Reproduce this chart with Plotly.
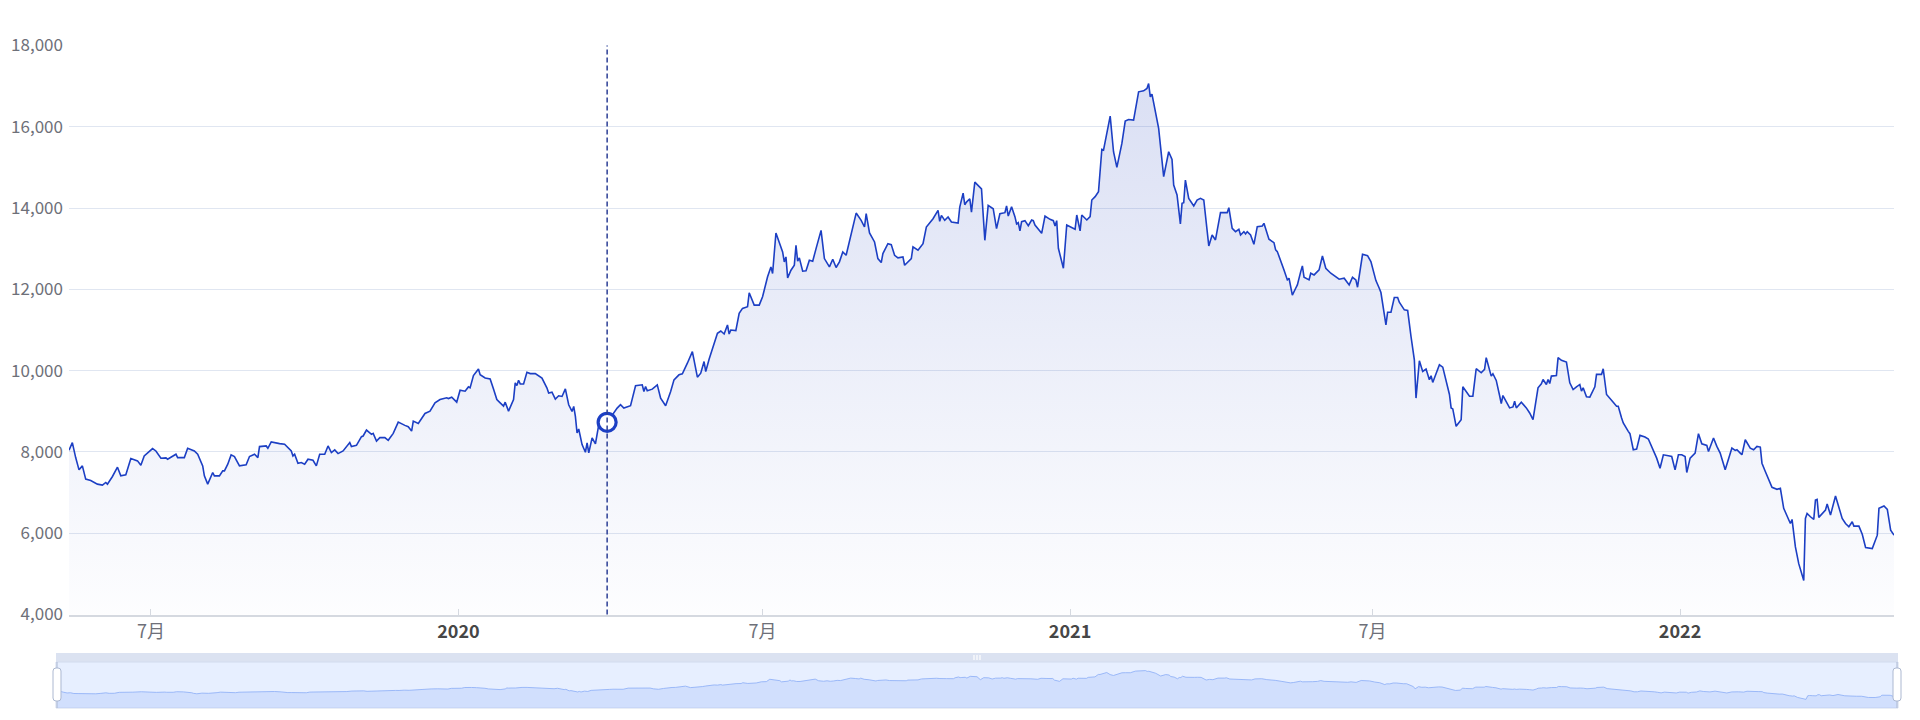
import plotly.graph_objects as go

# ---------------- data ----------------
dates = [
    "2019-05-13","2019-05-15","2019-05-17","2019-05-19","2019-05-21","2019-05-23","2019-05-26","2019-05-30",
    "2019-06-02","2019-06-04","2019-06-05","2019-06-08","2019-06-11","2019-06-13","2019-06-16","2019-06-19",
    "2019-06-23","2019-06-25","2019-06-27","2019-07-02","2019-07-04","2019-07-07","2019-07-10","2019-07-11",
    "2019-07-16","2019-07-17","2019-07-21","2019-07-23","2019-07-27","2019-07-29","2019-08-01","2019-08-02",
    "2019-08-04","2019-08-07","2019-08-08","2019-08-11","2019-08-13","2019-08-14","2019-08-16","2019-08-18",
    "2019-08-20","2019-08-23","2019-08-27","2019-08-29","2019-09-01","2019-09-03","2019-09-04","2019-09-08",
    "2019-09-09","2019-09-11","2019-09-16","2019-09-19","2019-09-23","2019-09-24","2019-09-25","2019-09-27",
    "2019-09-29","2019-10-01","2019-10-03","2019-10-06","2019-10-08","2019-10-10","2019-10-13","2019-10-15",
    "2019-10-17","2019-10-19","2019-10-21","2019-10-24","2019-10-28","2019-10-29","2019-11-01","2019-11-04",
    "2019-11-05","2019-11-07","2019-11-10","2019-11-11","2019-11-13","2019-11-15","2019-11-18","2019-11-20",
    "2019-11-23","2019-11-26","2019-11-30","2019-12-02","2019-12-04","2019-12-05","2019-12-08","2019-12-12",
    "2019-12-15","2019-12-18","2019-12-21","2019-12-25","2019-12-26","2019-12-28","2019-12-31","2020-01-02",
    "2020-01-05","2020-01-07","2020-01-08","2020-01-10","2020-01-13","2020-01-14","2020-01-17","2020-01-20",
    "2020-01-22","2020-01-24","2020-01-26","2020-01-28","2020-01-29","2020-01-31","2020-02-03","2020-02-04",
    "2020-02-05","2020-02-06","2020-02-07","2020-02-09","2020-02-11","2020-02-13","2020-02-16","2020-02-18",
    "2020-02-20","2020-02-23","2020-02-24","2020-02-26","2020-02-28","2020-03-01","2020-03-03","2020-03-05",
    "2020-03-07","2020-03-09","2020-03-10","2020-03-11","2020-03-12","2020-03-13","2020-03-15","2020-03-17",
    "2020-03-18","2020-03-19","2020-03-21","2020-03-23","2020-03-25","2020-03-30","2020-04-05","2020-04-07",
    "2020-04-09","2020-04-13","2020-04-16","2020-04-20","2020-04-21","2020-04-22","2020-04-23","2020-04-26",
    "2020-04-29","2020-05-01","2020-05-04","2020-05-07","2020-05-09","2020-05-12","2020-05-14","2020-05-17",
    "2020-05-20","2020-05-23","2020-05-25","2020-05-27","2020-05-28","2020-05-30","2020-06-01","2020-06-04",
    "2020-06-06","2020-06-08","2020-06-10","2020-06-11","2020-06-12","2020-06-15","2020-06-17","2020-06-19",
    "2020-06-22","2020-06-23","2020-06-26","2020-06-29","2020-07-01","2020-07-04","2020-07-06","2020-07-07",
    "2020-07-09","2020-07-11","2020-07-13","2020-07-14","2020-07-15","2020-07-16","2020-07-18","2020-07-20",
    "2020-07-21","2020-07-22","2020-07-23","2020-07-25","2020-07-27","2020-07-29","2020-07-31","2020-08-02",
    "2020-08-05","2020-08-07","2020-08-10","2020-08-12","2020-08-14","2020-08-16","2020-08-18","2020-08-20",
    "2020-08-23","2020-08-26","2020-08-29","2020-08-31","2020-09-01","2020-09-03","2020-09-06","2020-09-08",
    "2020-09-10","2020-09-11","2020-09-14","2020-09-16","2020-09-18","2020-09-20","2020-09-23","2020-09-24",
    "2020-09-28","2020-09-29","2020-10-02","2020-10-05","2020-10-07","2020-10-11","2020-10-14","2020-10-15",
    "2020-10-16","2020-10-18","2020-10-20","2020-10-22","2020-10-26","2020-10-27","2020-10-29","2020-10-30",
    "2020-10-31","2020-11-02","2020-11-03","2020-11-05","2020-11-09","2020-11-11","2020-11-13","2020-11-16",
    "2020-11-18","2020-11-20","2020-11-23","2020-11-24","2020-11-25","2020-11-27","2020-11-29","2020-11-30",
    "2020-12-01","2020-12-02","2020-12-03","2020-12-05","2020-12-07","2020-12-09","2020-12-10","2020-12-11",
    "2020-12-15","2020-12-17","2020-12-20","2020-12-22","2020-12-23","2020-12-24","2020-12-25","2020-12-28",
    "2020-12-30","2021-01-04","2021-01-05","2021-01-07","2021-01-08","2021-01-11","2021-01-13","2021-01-14",
    "2021-01-16","2021-01-18","2021-01-20","2021-01-21","2021-01-25","2021-01-27","2021-01-29","2021-02-01",
    "2021-02-03","2021-02-05","2021-02-08","2021-02-11","2021-02-14","2021-02-16","2021-02-17","2021-02-18",
    "2021-02-19","2021-02-23","2021-02-26","2021-03-01","2021-03-03","2021-03-04","2021-03-06","2021-03-08",
    "2021-03-09","2021-03-10","2021-03-11","2021-03-13","2021-03-16","2021-03-18","2021-03-20","2021-03-22",
    "2021-03-25","2021-03-27","2021-03-29","2021-04-01","2021-04-05","2021-04-06","2021-04-08","2021-04-10",
    "2021-04-12","2021-04-13","2021-04-15","2021-04-16","2021-04-17","2021-04-19","2021-04-21","2021-04-23",
    "2021-04-26","2021-04-27","2021-04-30","2021-05-03","2021-05-04","2021-05-05","2021-05-09","2021-05-11",
    "2021-05-12","2021-05-14","2021-05-16","2021-05-17","2021-05-19","2021-05-20","2021-05-21","2021-05-24",
    "2021-05-25","2021-05-27","2021-05-30","2021-06-01","2021-06-03","2021-06-06","2021-06-11","2021-06-14",
    "2021-06-17","2021-06-19","2021-06-21","2021-06-22","2021-06-25","2021-06-28","2021-06-30","2021-07-03",
    "2021-07-05","2021-07-06","2021-07-09","2021-07-10","2021-07-12","2021-07-14","2021-07-16","2021-07-17",
    "2021-07-20","2021-07-22","2021-07-24","2021-07-26","2021-07-27","2021-07-29","2021-07-31","2021-08-02",
    "2021-08-04","2021-08-05","2021-08-06","2021-08-10","2021-08-12","2021-08-14","2021-08-16","2021-08-17",
    "2021-08-18","2021-08-20","2021-08-23","2021-08-24","2021-08-26","2021-08-28","2021-08-30","2021-09-01",
    "2021-09-04","2021-09-06","2021-09-07","2021-09-09","2021-09-10","2021-09-11","2021-09-13","2021-09-15",
    "2021-09-16","2021-09-17","2021-09-19","2021-09-21","2021-09-23","2021-09-24","2021-09-25","2021-09-27",
    "2021-09-28","2021-10-01","2021-10-03","2021-10-05","2021-10-07","2021-10-08","2021-10-10","2021-10-11",
    "2021-10-13","2021-10-14","2021-10-15","2021-10-16","2021-10-19","2021-10-20","2021-10-22","2021-10-25",
    "2021-10-27","2021-10-29","2021-10-31","2021-11-02","2021-11-03","2021-11-04","2021-11-06","2021-11-08",
    "2021-11-11","2021-11-12","2021-11-15","2021-11-16","2021-11-18","2021-11-20","2021-11-22","2021-11-24",
    "2021-11-25","2021-11-27","2021-11-28","2021-12-01","2021-12-02","2021-12-04","2021-12-06","2021-12-08",
    "2021-12-11","2021-12-13","2021-12-16","2021-12-18","2021-12-20","2021-12-22","2021-12-25","2021-12-27",
    "2021-12-29","2021-12-31","2022-01-02","2022-01-04","2022-01-05","2022-01-07","2022-01-10","2022-01-12",
    "2022-01-14","2022-01-17","2022-01-18","2022-01-21","2022-01-23","2022-01-25","2022-01-28","2022-01-31",
    "2022-02-01","2022-02-03","2022-02-04","2022-02-06","2022-02-07","2022-02-09","2022-02-12","2022-02-14",
    "2022-02-16","2022-02-18","2022-02-19","2022-02-21","2022-02-23","2022-02-25","2022-02-28","2022-03-02",
    "2022-03-04","2022-03-06","2022-03-08","2022-03-09","2022-03-11","2022-03-13","2022-03-16","2022-03-17",
    "2022-03-18","2022-03-20","2022-03-22","2022-03-23","2022-03-24","2022-03-25","2022-03-27","2022-03-29",
    "2022-03-30","2022-04-01","2022-04-04","2022-04-08","2022-04-10","2022-04-12","2022-04-14","2022-04-15",
    "2022-04-18","2022-04-20","2022-04-22","2022-04-26","2022-04-29","2022-04-30","2022-05-03","2022-05-05",
    "2022-05-07","2022-05-09",
]

values = [
    8041, 8229, 7861, 7559, 7657, 7331, 7298, 7208,
    7184, 7249, 7208, 7396, 7625, 7412, 7437, 7837,
    7780, 7673, 7902, 8082, 8024, 7845, 7853, 7820,
    7943, 7861, 7861, 8090, 8024, 7943, 7657, 7412,
    7208, 7494, 7412, 7412, 7535, 7535, 7698, 7927,
    7886, 7657, 7682, 7886, 7943, 7861, 8131, 8147,
    8090, 8245, 8204, 8188, 8024, 7902, 7943, 7722,
    7739, 7698, 7820, 7796, 7657, 7943, 7943, 8147,
    7984, 8049, 7959, 8024, 8229, 8131, 8163, 8376,
    8392, 8539, 8433, 8457, 8269, 8351, 8351, 8286,
    8457, 8735, 8653, 8620, 8514, 8759, 8702, 8947,
    9004, 9208, 9290, 9331, 9314, 9347, 9224, 9518,
    9494, 9600, 9576, 9878, 10041, 9902, 9820, 9796,
    9551, 9290, 9208, 9127, 9224, 9004, 9290, 9698,
    9633, 9763, 9673, 9673, 9959, 9927, 9927, 9878,
    9815, 9570, 9447, 9471, 9300, 9382, 9365, 9553,
    9161, 8997, 9120, 8875, 8466, 8564, 8180, 7992,
    8221, 7976, 8344, 8196, 8670, 8728, 9079, 9161,
    9079, 9137, 9627, 9651, 9488, 9611, 9504, 9545,
    9651, 9324, 9137, 9488, 9774, 9897, 9921, 10183,
    10469, 9839, 9937, 10224, 9978, 10281, 10526, 10918,
    10976, 10902, 11123, 10902, 11000, 10984, 11409, 11531,
    11572, 11916, 11613, 11613, 11818, 12308, 12553, 12390,
    13387, 13125, 12921, 12676, 12798, 12283, 12471, 12594,
    13085, 12692, 12774, 12447, 12455, 12717, 12692, 13003,
    13452, 12758, 12553, 12741, 12537, 12676, 12921, 12839,
    13330, 13877, 13698, 13534, 13861, 13387, 13166, 12758,
    12660, 12880, 13125, 13101, 12839, 12774, 12798, 12594,
    12758, 13044, 12962, 13125, 13534, 13738, 13943, 13673,
    13820, 13698, 13779, 13657, 13632, 14025, 14368, 14082,
    14147, 14229, 13902, 14638, 14474, 13207, 14065, 13984,
    13493, 13861, 13887, 14051, 13805, 14034, 13789, 13609,
    13641, 13437, 13666, 13690, 13568, 13707, 13690, 13584,
    13379, 13805, 13723, 13690, 13559, 13690, 13011, 12519,
    13584, 13477, 13830, 13437, 13830, 13707, 13789, 14198,
    14280, 14403, 15443, 15427, 16262, 15386, 15001, 15590,
    16139, 16180, 16164, 16860, 16885, 16942, 17065, 16737,
    16803, 15959, 14772, 15386, 15197, 14567, 14321, 13609,
    14116, 14133, 14690, 14239, 14051, 14198, 14239, 14198,
    13068, 13338, 13215, 13887, 13887, 14010, 13502, 13420,
    13477, 13338, 13420, 13363, 13420, 13338, 13109, 13543,
    13559, 13625, 13232, 13150, 12970, 12929, 12478, 12233,
    12274, 11856, 12028, 12110, 12437, 12577, 12298, 12233,
    12396, 12355, 12478, 12822, 12519, 12396, 12249, 12274,
    12110, 12298, 12233, 12053, 12863, 12830, 12683, 12216,
    12028, 11921, 11127, 11438, 11438, 11798, 11798, 11684,
    11496, 11479, 10840, 10267, 9325, 10242, 9980, 10038,
    9776, 9874, 9710, 10144, 10087, 9776, 9413, 9083,
    9058, 8630, 8795, 9602, 9470, 9371, 9371, 10047,
    9948, 10031, 10319, 9989, 9866, 9924, 9759, 9388,
    9190, 9388, 9223, 9083, 9108, 9248, 9083, 9190,
    9223, 9083, 8959, 8795, 9248, 9577, 9676, 9783,
    9660, 9783, 9685, 9866, 9882, 10319, 10253, 10212,
    9701, 9536, 9602, 9660, 9495, 9577, 9355, 9347,
    9602, 9907, 9907, 10047, 9413, 9306, 9223, 9124,
    9124, 8836, 8712, 8506, 8449, 8053, 8070, 8407,
    8366, 8317, 8053, 7847, 7600, 7929, 7905, 7888,
    7559, 7929, 7929, 7888, 7493, 7847, 7971, 8449,
    8201, 8160, 8012, 8342, 8136, 7971, 7559, 8012,
    8094, 8037, 8053, 7971, 7929, 8300, 8094, 8053,
    8136, 8119, 7723, 7518, 7328, 7130, 7081, 7105,
    6611, 6405, 6240, 6339, 5663, 5251, 4839, 6364,
    6488, 6405, 6339, 6817, 6834, 6389, 6488, 6570,
    6718, 6446, 6916, 6364, 6240, 6158, 6282, 6174,
    6174, 5976, 5647, 5622, 5952, 6611, 6669, 6586,
    6076, 5952,
]

hover_date = "2020-03-30"          # point highlighted by the axis pointer

x_tick_vals = ["2019-07-01", "2020-01-01", "2020-07-01", "2021-01-01", "2021-07-01", "2022-01-01"]
x_tick_labels = ["7月", "2020", "7月", "2021", "7月", "2022"]
x_tick_is_year = [False, True, False, True, False, True]
y_tick_vals = [4000, 6000, 8000, 10000, 12000, 14000, 16000, 18000]

# ---------------- styling ----------------
W, H = 1920, 720
PAGE_OFFSET = 8          # default body margin of the html page
LINE = "#1c3fc4"
LABEL = "#6E7079"
YEAR = "#464646"
GRID = "#E0E6F1"
FONT = "Noto Sans CJK SC, Noto Sans, sans-serif"

def px_x(p):
    return (p - PAGE_OFFSET) / W

def px_y(p):
    return 1 - (p - PAGE_OFFSET) / H

plot_l, plot_r, plot_t, plot_b = 69, 1894, 45.5, 614.5
sl_l, sl_r, sl_top, sl_mid, sl_bot = 56, 1898, 653, 662, 708

ticktext = [
    f"<span style='color:{YEAR}'><b>{t}</b></span>" if yr else t
    for t, yr in zip(x_tick_labels, x_tick_is_year)
]

vmax, vmin = max(values), min(values)
vr = vmax - vmin
shadow_range = [vmin - 0.3 * vr, vmax + 0.3 * vr]
hover_value = values[dates.index(hover_date)]

fig = go.Figure()

fig.add_trace(go.Scatter(
    x=dates, y=values, mode="lines",
    line=dict(color=LINE, width=1.6),
    fill="tozeroy",
    fillgradient=dict(
        type="vertical",
        colorscale=[[0, "rgba(40,70,190,0.01)"], [1, "rgba(40,70,190,0.17)"]],
        start=y_tick_vals[0], stop=vmax,
    ),
    hoverinfo="skip", showlegend=False,
))

fig.add_trace(go.Scatter(
    x=[hover_date], y=[hover_value], mode="markers",
    marker=dict(size=18, color="white", line=dict(color=LINE, width=3.2)),
    hoverinfo="skip", showlegend=False,
))

# data shadow in the zoom slider
fig.add_trace(go.Scatter(
    x=dates, y=values, mode="lines", xaxis="x2", yaxis="y2",
    line=dict(color="rgba(143,176,247,0.85)", width=1),
    fill="tozeroy", fillcolor="rgba(143,176,247,0.25)",
    hoverinfo="skip", showlegend=False,
))

shapes = []
# slider body + top strip
shapes.append(dict(type="rect", xref="paper", yref="paper",
                   x0=px_x(sl_l), x1=px_x(sl_r), y0=px_y(sl_bot), y1=px_y(sl_mid),
                   fillcolor="rgba(135,175,255,0.2)", line=dict(color="#d2dbee", width=1), layer="below"))
shapes.append(dict(type="rect", xref="paper", yref="paper",
                   x0=px_x(sl_l), x1=px_x(sl_r), y0=px_y(sl_mid), y1=px_y(sl_top),
                   fillcolor="rgba(210,219,238,0.8)", line=dict(width=0), layer="below"))
# grip marks on the move strip
cx = (sl_l + sl_r) / 2
for dx in (-3, 0, 3):
    shapes.append(dict(type="line", xref="paper", yref="paper",
                       x0=px_x(cx + dx), x1=px_x(cx + dx), y0=px_y(660), y1=px_y(655),
                       line=dict(color="white", width=1.2)))
# handles
def rounded_rect(x0, x1, y0, y1, r):
    X = lambda v: f"{px_x(v):.6f}"
    Y = lambda v: f"{px_y(v):.6f}"
    return (f"M {X(x0 + r)},{Y(y0)} L {X(x1 - r)},{Y(y0)} Q {X(x1)},{Y(y0)} {X(x1)},{Y(y0 + r)} "
            f"L {X(x1)},{Y(y1 - r)} Q {X(x1)},{Y(y1)} {X(x1 - r)},{Y(y1)} "
            f"L {X(x0 + r)},{Y(y1)} Q {X(x0)},{Y(y1)} {X(x0)},{Y(y1 - r)} "
            f"L {X(x0)},{Y(y0 + r)} Q {X(x0)},{Y(y0)} {X(x0 + r)},{Y(y0)} Z")

for hx in (sl_l + 1, sl_r - 1):
    shapes.append(dict(type="line", xref="paper", yref="paper",
                       x0=px_x(hx), x1=px_x(hx), y0=px_y(sl_bot), y1=px_y(sl_mid),
                       line=dict(color="#ACB8D1", width=1)))
    shapes.append(dict(type="path", xref="paper", yref="paper",
                       path=rounded_rect(hx - 4, hx + 4, 668, 701, 3),
                       fillcolor="white", line=dict(color="#ACB8D1", width=1)))

# axis pointer (dashed vertical line)
shapes.append(dict(type="line", xref="x", yref="y domain",
                   x0=hover_date, x1=hover_date, y0=0, y1=1,
                   line=dict(color="#2c3f96", width=1.5, dash="5px,3px"), layer="above"))

fig.update_layout(
    width=W, height=H,
    margin=dict(l=0, r=0, t=0, b=0, pad=0, autoexpand=False),
    paper_bgcolor="white", plot_bgcolor="white",
    font=dict(family=FONT, size=18, color=LABEL),
    showlegend=False,
    shapes=shapes,
    xaxis=dict(
        domain=[px_x(plot_l), px_x(plot_r)],
        type="date", range=[dates[0], dates[-1]],
        tickvals=x_tick_vals, ticktext=ticktext,
        tickfont=dict(size=18, color=LABEL),
        showgrid=False, zeroline=False,
        showline=True, linecolor="#D5D9E0", linewidth=1.5,
        ticks="inside", ticklen=6, tickcolor="#D5D9E0", tickwidth=1,
        anchor="y", fixedrange=True, automargin=False,
    ),
    yaxis=dict(
        domain=[px_y(plot_b), px_y(plot_t)],
        range=[y_tick_vals[0], y_tick_vals[-1]],
        tickvals=y_tick_vals, tickformat=",d",
        tickfont=dict(size=17, color=LABEL),
        showgrid=True, gridcolor=GRID, gridwidth=1,
        zeroline=False, showline=False, ticks="",
        ticklabelstandoff=5,
        anchor="x", fixedrange=True, automargin=False,
    ),
    xaxis2=dict(
        domain=[px_x(sl_l + 1), px_x(sl_r - 1)],
        type="date", range=[dates[0], dates[-1]],
        visible=False, anchor="y2", fixedrange=True,
    ),
    yaxis2=dict(
        domain=[px_y(sl_bot), px_y(sl_mid)],
        range=shadow_range,
        visible=False, anchor="x2", fixedrange=True,
    ),
)

fig.write_html("out.html")
